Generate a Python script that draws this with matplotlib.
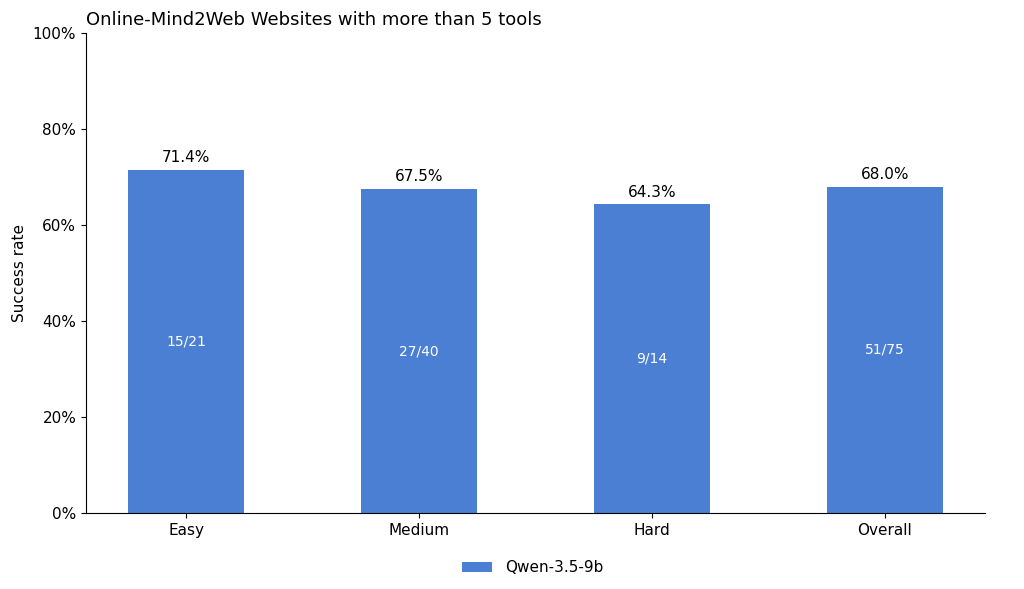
import matplotlib
matplotlib.use("Agg")
import matplotlib.pyplot as plt
from matplotlib.ticker import PercentFormatter

categories = ["Easy", "Medium", "Hard", "Overall"]
rates = [71.4, 67.5, 64.3, 68.0]
counts = ["15/21", "27/40", "9/14", "51/75"]
series_name = "Qwen-3.5-9b"

fig = plt.figure(figsize=(10.24, 5.89), dpi=100)
ax = fig.add_axes([0.084, 0.129, 0.878, 0.815])
x = range(len(categories))
bars = ax.bar(x, rates, width=0.5, color="#4a7fd4", label=series_name)
for xi, r, c in zip(x, rates, counts):
    ax.text(xi, r + 1, f"{r:.1f}%", ha="center", va="bottom", fontsize=11)
    ax.text(xi, r / 2, c, ha="center", va="center", fontsize=10, color="white")
ax.set_xticks(list(x))
ax.set_xticklabels(categories, fontsize=11)
ax.set_xlim(-0.43, 3.43)
ax.set_ylim(0, 100)
ax.set_yticks([0, 20, 40, 60, 80, 100])
ax.yaxis.set_major_formatter(PercentFormatter(decimals=0))
ax.tick_params(axis="y", labelsize=11)
ax.set_ylabel("Success rate", fontsize=11)
ax.set_title("Online-Mind2Web Websites with more than 5 tools", loc="left", fontsize=13)
ax.spines["top"].set_visible(False)
ax.spines["right"].set_visible(False)
fig.legend(loc="lower center", bbox_to_anchor=(0.52, 0.0), frameon=False, fontsize=11)
fig.savefig("out.png", dpi=100)
